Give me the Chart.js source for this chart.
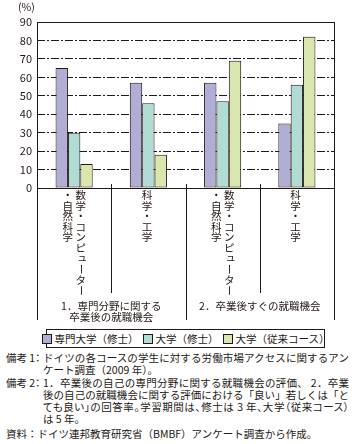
<!DOCTYPE html>
<html><head><meta charset="utf-8">
<script src="https://cdn.jsdelivr.net/npm/chart.js@4/dist/chart.umd.min.js"></script>
<style>
html,body{margin:0;padding:0;background:#fff;}
body{width:357px;height:444px;position:relative;overflow:hidden;font-family:"Noto Sans CJK JP","Noto Sans",sans-serif;color:#231815;}
#c{position:absolute;left:0;top:0;}
#unit{position:absolute;left:18px;top:1px;font-size:10.5px;line-height:12px;}
#legend{position:absolute;left:46px;top:329px;width:279px;height:19px;box-sizing:border-box;border:1px solid #231815;display:flex;align-items:center;justify-content:center;font-size:10.5px;white-space:nowrap;}
#legend .it{display:flex;align-items:center;margin:0 2px;}
#legend .sw{width:8px;height:8px;border:1px solid #231815;margin-right:3px;}
#notes{position:absolute;left:6px;top:352px;font-size:10.5px;line-height:12.3px;}
#notes .row{display:flex;}
#notes .lab{width:37px;flex:none;white-space:nowrap;font-feature-settings:"palt";}
#notes .txt div{width:306px;white-space:nowrap;}
#notes .txt div.j{text-align:justify;text-align-last:justify;text-justify:inter-character;white-space:normal;}
#notes .txt div.p{font-feature-settings:"palt";}
#notes .src{margin-top:2px;white-space:nowrap;}
</style></head>
<body>
<canvas id="c" width="357" height="325"></canvas>
<div id="unit">(%)</div>
<div id="legend"></div>
<div id="notes">
<div class="row"><div class="lab">備考 1：</div><div class="txt"><div class="j">ドイツの各コースの学生に対する労働市場アクセスに関するアン</div><div>ケート調査（2009 年）。</div></div></div>
<div class="row"><div class="lab">備考 2：</div><div class="txt"><div class="j">1．卒業後の自己の専門分野に関する就職機会の評価、 2．卒業</div><div class="j">後の自己の就職機会に関する評価における「良い」若しくは「と</div><div class="j p">ても良い」の回答率。学習期間は、修士は 3 年、大学（従来コース）</div><div>は 5 年。</div></div></div>
<div class="src">資料：ドイツ連邦教育研究省（BMBF）アンケート調査から作成。</div>
</div>
<script>
// ---- data ----
const categories = [
  ['数学・コンピューター', '・自然科学'],
  ['科学・工学'],
  ['数学・コンピューター', '・自然科学'],
  ['科学・工学']
];
const groupLabels = [
  ['1．専門分野に関する', '卒業後の就職機会'],
  ['2．卒業後すぐの就職機会']
];
const groupSizes = [2, 2];
const seriesNames = ['専門大学（修士）', '大学（修士）', '大学（従来コース）'];
const fhMaster = [65, 57, 57, 35];
const uniMaster = [30, 46, 47, 56];
const uniTraditional = [13, 18, 69, 82];
const yTicks = [0, 10, 20, 30, 40, 50, 60, 70, 80, 90];

// ---- styles ----
const INK = '#231815';
const seriesColors = ['#b1aed6', '#b0dcd4', '#d9e6ae'];
const FONT = '"Noto Sans CJK JP","Noto Sans",sans-serif';

const seriesData = [fhMaster, uniMaster, uniTraditional];

// legend (HTML)
const lg = document.getElementById('legend');
seriesNames.forEach((n, i) => {
  const it = document.createElement('div'); it.className = 'it';
  const sw = document.createElement('div'); sw.className = 'sw'; sw.style.background = seriesColors[i];
  const tx = document.createElement('span'); tx.textContent = n;
  it.appendChild(sw); it.appendChild(tx); lg.appendChild(it);
});

const axisPlugin = {
  id: 'axisDecor',
  afterDatasetsDraw(chart) {
    const {ctx, chartArea: a, scales: {x}} = chart;
    const L = a.left, R = a.right, T = a.top, B = a.bottom;
    const outerEnd = B + 132, innerEnd = B + 105;
    ctx.save();
    ctx.strokeStyle = INK; ctx.lineWidth = 1;
    const line = (x1, y1, x2, y2) => { ctx.beginPath(); ctx.moveTo(x1, y1); ctx.lineTo(x2, y2); ctx.stroke(); };
    const px = v => Math.round(v) + 0.5;
    // frame
    line(L, px(T), R, px(T));
    line(L, px(B), R, px(B));
    line(px(L), T, px(L), outerEnd);
    line(px(R), T, px(R), outerEnd);
    // separators between categories
    const n = categories.length;
    let idx = 0; const groupBounds = [];
    groupSizes.forEach(s => { idx += s; groupBounds.push(idx); });
    for (let i = 0; i < n - 1; i++) {
      const xb = (x.getPixelForValue(i) + x.getPixelForValue(i + 1)) / 2;
      const isGroup = groupBounds.includes(i + 1);
      line(px(xb), B - 4, px(xb), isGroup ? outerEnd : innerEnd);
    }
    // vertical category labels
    ctx.fillStyle = INK;
    ctx.font = '10.5px ' + FONT;
    ctx.textAlign = 'center'; ctx.textBaseline = 'middle';
    const step = 10.6, colGap = 13;
    categories.forEach((cols, i) => {
      const cx = x.getPixelForValue(i) - (cols.length === 1 ? 1.5 : 0);
      cols.forEach((col, j) => {
        const colX = cx + (cols.length - 1) / 2 * colGap - j * colGap;
        [...col].forEach((ch, k) => {
          const cy = B + 7 + k * step;
          if (ch === 'ー') {
            ctx.save(); ctx.translate(colX, cy); ctx.rotate(Math.PI / 2);
            ctx.fillText(ch, 0, 0); ctx.restore();
          } else if ('ュッャョ'.includes(ch)) {
            ctx.fillText(ch, colX + 1.5, cy - 1.5);
          } else {
            ctx.fillText(ch, colX, cy);
          }
        });
      });
    });
    // group labels
    let start = 0;
    groupLabels.forEach((lines, g) => {
      const end = start + groupSizes[g];
      const x0 = start === 0 ? L : (x.getPixelForValue(start - 1) + x.getPixelForValue(start)) / 2;
      const x1 = end === n ? R : (x.getPixelForValue(end - 1) + x.getPixelForValue(end)) / 2;
      const gx = (x0 + x1) / 2;
      lines.forEach((t, k) => ctx.fillText(t, gx, B + 118 + k * 11));
      start = end;
    });
    ctx.restore();
  }
};

new Chart(document.getElementById('c'), {
  type: 'bar',
  data: {
    labels: categories,
    datasets: seriesNames.map((name, i) => ({
      label: name,
      data: seriesData[i],
      backgroundColor: seriesColors[i],
      borderColor: INK,
      borderWidth: 1,
      borderSkipped: false,
      categoryPercentage: 0.5,
      barPercentage: 1.0
    }))
  },
  options: {
    responsive: false,
    animation: false,
    devicePixelRatio: 1,
    layout: {padding: {top: 22, right: 23, left: 0, bottom: 0}},
    plugins: {legend: {display: false}, tooltip: {enabled: false}},
    scales: {
      x: {
        grid: {display: false},
        border: {display: false},
        ticks: {display: false},
        afterFit(s) { s.height = 137; }
      },
      y: {
        min: 0, max: 90,
        afterBuildTicks(s) { s.ticks = yTicks.map(v => ({value: v})); },
        ticks: {color: INK, font: {size: 11, family: FONT}, padding: 5},
        grid: {
          drawTicks: false,
          lineWidth: 1,
          color: c => (c.tick && (c.tick.value === 0 || c.tick.value === 90)) ? 'rgba(0,0,0,0)' : INK
        },
        border: {display: false, dash: [8, 2, 2, 2]},
        afterFit(s) { s.width = 37; }
      }
    }
  },
  plugins: [axisPlugin]
});
</script>
</body></html>
